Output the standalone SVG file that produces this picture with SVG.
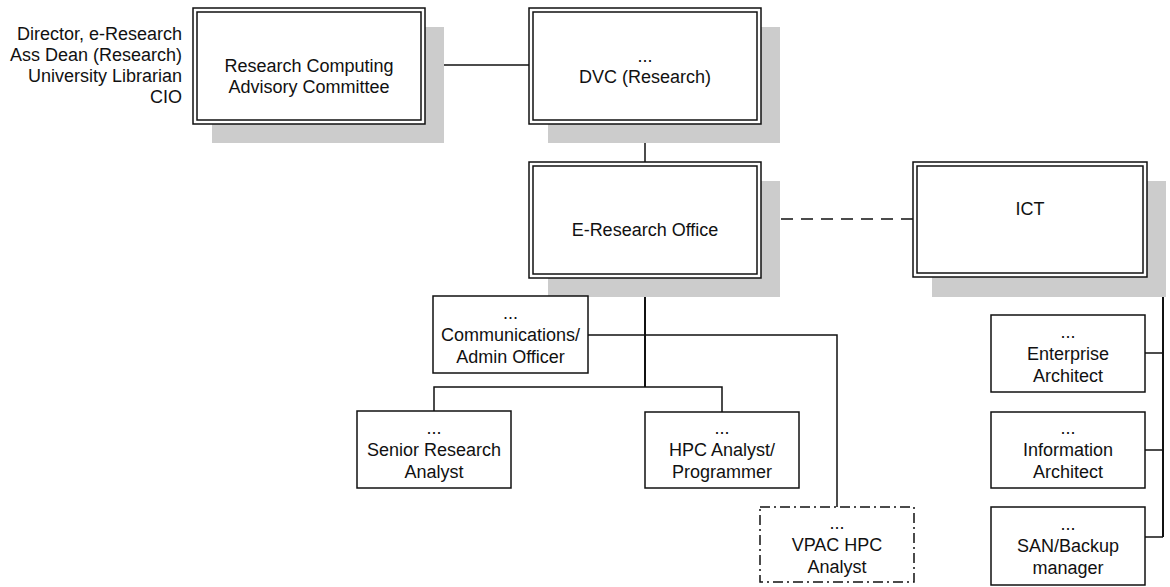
<svg xmlns="http://www.w3.org/2000/svg" width="1170" height="587" viewBox="0 0 1170 587">
<style>
text{font-family:"Liberation Sans",Arial,sans-serif;font-size:18px;fill:#111;text-anchor:middle}
.lbl{text-anchor:end}
.sh{fill:#cccccc}
.box{fill:#fff;stroke:#111;stroke-width:1.5}
.inner{fill:none;stroke:#111;stroke-width:1.5}
.sbox{fill:#fff;stroke:#111;stroke-width:1.5}
.dd{fill:#fff;stroke:#111;stroke-width:1.5;stroke-dasharray:10 4 2 4}
.ln{fill:none;stroke:#111;stroke-width:1.5}
.thk{fill:none;stroke:#111;stroke-width:2}
.dash{fill:none;stroke:#111;stroke-width:1.5;stroke-dasharray:12 8}
</style>
<g id="members">
<text class="lbl" x="182" y="40">Director, e-Research</text>
<text class="lbl" x="182" y="61">Ass Dean (Research)</text>
<text class="lbl" x="182" y="82">University Librarian</text>
<text class="lbl" x="182" y="103">CIO</text>
</g>
<g id="connectors">
<line class="ln" x1="425" y1="65" x2="529" y2="65"/>
<line class="ln" x1="645" y1="124" x2="645" y2="162"/>
<line class="dash" x1="761" y1="219" x2="913" y2="219"/>
<line class="thk" x1="645" y1="278" x2="645" y2="387"/>
<polyline class="ln" points="434,411 434,387 722,387 722,412"/>
<polyline class="ln" points="588,335 837,335 837,507"/>
<polyline class="thk" points="1029,277 1029,296 1163,296 1163,537"/>
<line class="ln" x1="1145" y1="353" x2="1163" y2="353"/>
<line class="ln" x1="1145" y1="450" x2="1163" y2="450"/>
<line class="ln" x1="1145" y1="537" x2="1163" y2="537"/>
</g>
<g id="rcac">
<rect class="sh" x="212" y="27" width="232" height="116"/>
<rect class="box" x="193" y="8" width="232" height="116"/>
<rect class="inner" x="197" y="12" width="224" height="108"/>
<text x="309" y="72">Research Computing</text>
<text x="309" y="93">Advisory Committee</text>
</g>
<g id="dvc">
<rect class="sh" x="548" y="27" width="232" height="116"/>
<rect class="box" x="529" y="8" width="232" height="116"/>
<rect class="inner" x="533" y="12" width="224" height="108"/>
<text x="645" y="62">...</text>
<text x="645" y="83">DVC (Research)</text>
</g>
<g id="eresearch">
<rect class="sh" x="548" y="181" width="232" height="116"/>
<rect class="box" x="529" y="162" width="232" height="116"/>
<rect class="inner" x="533" y="166" width="224" height="108"/>
<text x="645" y="236">E-Research Office</text>
</g>
<g id="ict">
<rect class="sh" x="932" y="181" width="234" height="116"/>
<rect class="box" x="913" y="162" width="234" height="115"/>
<rect class="inner" x="917" y="166" width="226" height="107"/>
<text x="1030" y="215">ICT</text>
</g>
<g id="comms">
<rect class="sbox" x="433" y="296" width="155" height="77"/>
<text x="510.5" y="319">...</text>
<text x="510.5" y="341">Communications/</text>
<text x="510.5" y="363">Admin Officer</text>
</g>
<g id="senior">
<rect class="sbox" x="357" y="411" width="154" height="77"/>
<text x="434" y="434">...</text>
<text x="434" y="456">Senior Research</text>
<text x="434" y="478">Analyst</text>
</g>
<g id="hpc">
<rect class="sbox" x="645" y="412" width="154" height="76"/>
<text x="722" y="434">...</text>
<text x="722" y="456">HPC Analyst/</text>
<text x="722" y="478">Programmer</text>
</g>
<g id="vpac">
<rect class="dd" x="760" y="507" width="154" height="75"/>
<text x="837" y="529">...</text>
<text x="837" y="551">VPAC HPC</text>
<text x="837" y="573">Analyst</text>
</g>
<g id="enterprise">
<rect class="sbox" x="991" y="315" width="154" height="77"/>
<text x="1068" y="338">...</text>
<text x="1068" y="360">Enterprise</text>
<text x="1068" y="382">Architect</text>
</g>
<g id="information">
<rect class="sbox" x="991" y="412" width="154" height="76"/>
<text x="1068" y="434">...</text>
<text x="1068" y="456">Information</text>
<text x="1068" y="478">Architect</text>
</g>
<g id="san">
<rect class="sbox" x="991" y="507" width="154" height="78"/>
<text x="1068" y="530">...</text>
<text x="1068" y="552">SAN/Backup</text>
<text x="1068" y="574">manager</text>
</g>
</svg>
